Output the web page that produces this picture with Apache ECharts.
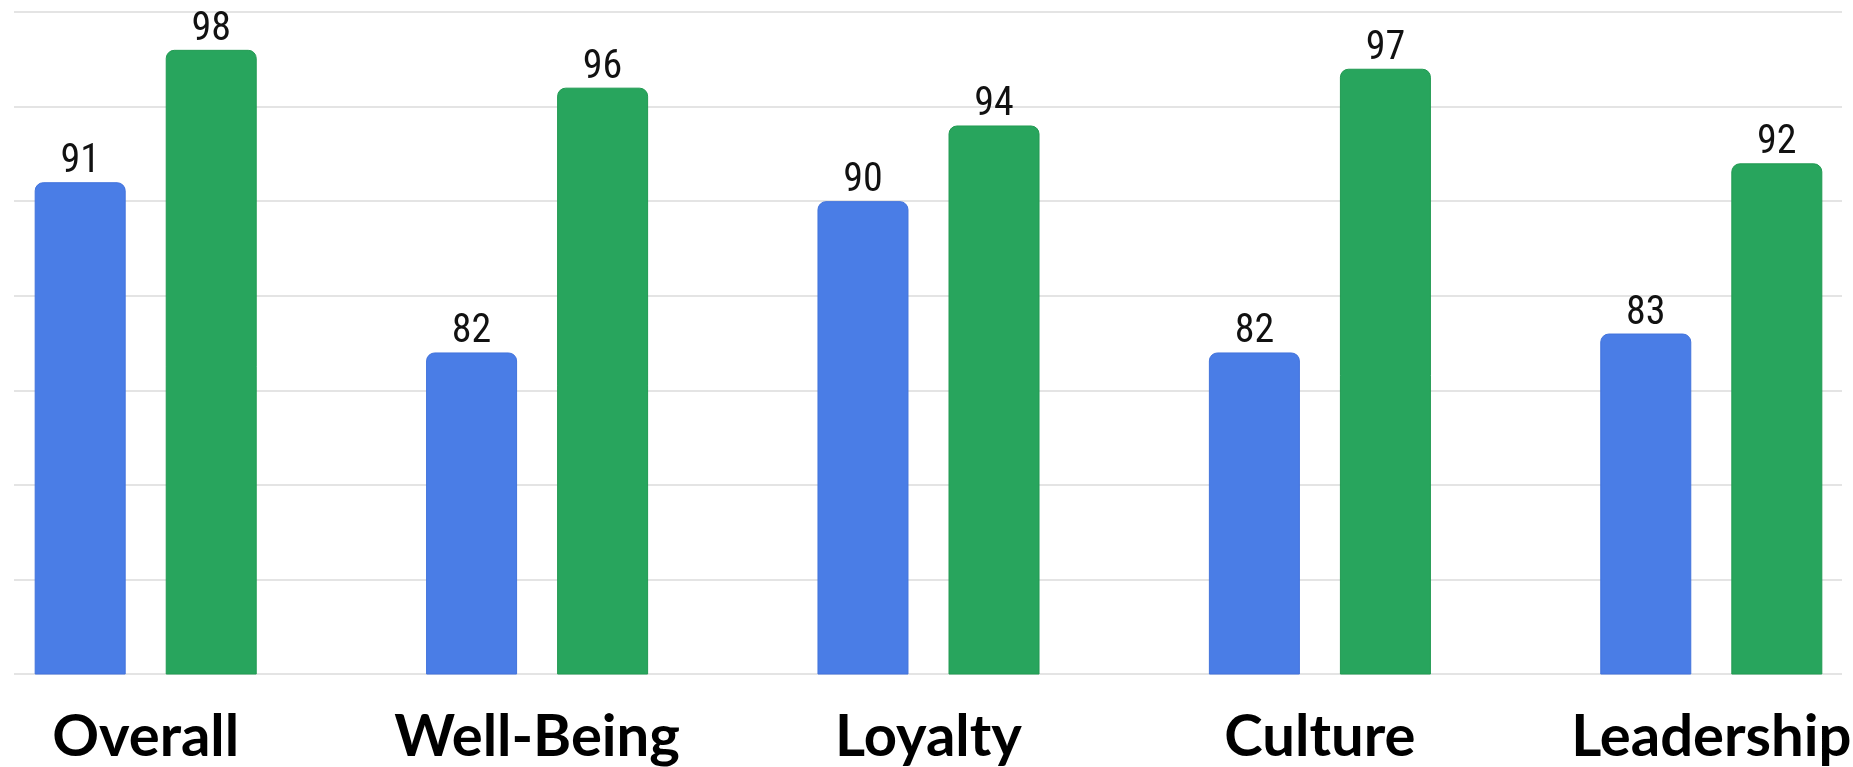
<!DOCTYPE html>
<html>
<head>
<meta charset="utf-8">
<style>
  html, body { margin: 0; padding: 0; background: #ffffff; }
  #chart { width: 1853px; height: 767px; }
</style>
<script src="https://cdn.jsdelivr.net/npm/echarts@6/dist/echarts.min.js"></script>
</head>
<body>
<div id="chart"></div>
<script>
// Survey scores by category
const categories = ['Overall', 'Well-Being', 'Loyalty', 'Culture', 'Leadership'];
const seriesA = [91, 82, 90, 82, 83];
const seriesB = [98, 96, 94, 97, 92];

// Value scale
const yMin = 65;
const yMax = 100;
const yStep = 5;

const blue = '#4a7de6';
const green = '#28a55d';

const chart = echarts.init(document.getElementById('chart'));

const valueLabel = {
  show: true,
  position: 'top',
  distance: 0,
  color: '#111',
  fontStyle: 'condensed',
  fontWeight: 'normal',
  fontFamily: 'Roboto, "Liberation Sans", sans-serif',
  fontSize: 40
};

chart.setOption({
  animation: false,
  backgroundColor: '#ffffff',
  grid: [
    // bar area (bands extend slightly past the canvas edges)
    { left: -50, right: -54, top: 12, bottom: 93, outerBoundsMode: 'none', containLabel: false },
    // gridline area
    { left: 14, right: 11, top: 12, bottom: 93, outerBoundsMode: 'none', containLabel: false }
  ],
  xAxis: [
    {
      type: 'category',
      gridIndex: 0,
      data: categories,
      axisLine: { show: false },
      axisTick: { show: false },
      axisLabel: {
        margin: 34,
        color: '#000',
        fontFamily: 'Lato, "Open Sans", sans-serif',
        fontWeight: 'bold',
        fontSize: 58,
        interval: 0,
        hideOverlap: false
      }
    },
    { type: 'value', gridIndex: 1, show: false, min: 0, max: 1 }
  ],
  yAxis: [
    {
      type: 'value',
      gridIndex: 0,
      min: yMin, max: yMax, interval: yStep,
      show: false
    },
    {
      type: 'value',
      gridIndex: 1,
      min: yMin, max: yMax, interval: yStep,
      axisLine: { show: false },
      axisTick: { show: false },
      axisLabel: { show: false },
      splitLine: { show: true, lineStyle: { color: '#e4e4e4', width: 2 } }
    }
  ],
  series: [
    {
      name: 'Series A',
      type: 'bar',
      xAxisIndex: 0,
      yAxisIndex: 0,
      data: seriesA,
      barWidth: 91,
      barGap: '44%',
      itemStyle: { color: blue, borderRadius: [8, 8, 0, 0], borderColor: '#4273dc', borderWidth: 1 },
      label: valueLabel,
      z: 3
    },
    {
      name: 'Series B',
      type: 'bar',
      xAxisIndex: 0,
      yAxisIndex: 0,
      data: seriesB,
      barWidth: 91,
      itemStyle: { color: green, borderRadius: [8, 8, 0, 0], borderColor: '#219a52', borderWidth: 1 },
      label: valueLabel,
      z: 3
    }
  ]
});
</script>
</body>
</html>
